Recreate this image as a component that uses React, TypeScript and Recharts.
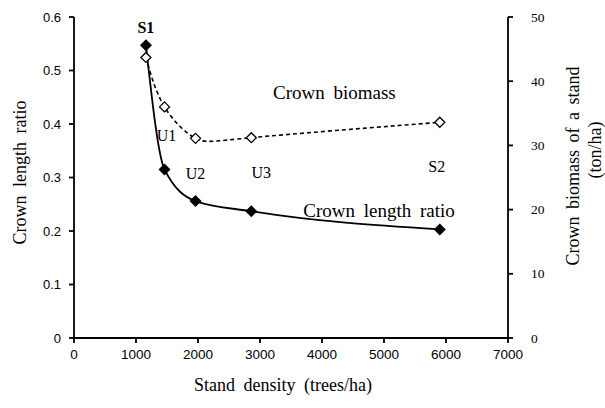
import React from 'react';
import { ComposedChart, Line, XAxis, YAxis, LabelList, ReferenceDot, Label } from 'recharts';

// stands
const stands = ['S1', 'U1', 'U2', 'U3', 'S2'];
const density = [1160, 1460, 1960, 2860, 5900];
const crownRatio = [0.547, 0.315, 0.256, 0.237, 0.203];
const crownBiomass = [43.7, 36.0, 31.1, 31.2, 33.6];

const xTicks = [0, 1000, 2000, 3000, 4000, 5000, 6000, 7000];
const ratioTicks = [0, 0.1, 0.2, 0.3, 0.4, 0.5, 0.6];
const biomassTicks = [0, 10, 20, 30, 40, 50];

const data = stands.map((stand, i) => ({
  stand,
  density: density[i],
  ratio: crownRatio[i],
  biomass: crownBiomass[i],
}));

// where each stand name sits relative to its biomass marker
const nameShift: Record<string, [number, number]> = {
  S1: [0, -30],
  U1: [2, 29],
  U2: [0, 35],
  U3: [10, 35],
  S2: [-3, 44],
};

const serif = '"Liberation Serif", "Times New Roman", serif';
const sans = '"Liberation Sans", Arial, sans-serif';

const FilledDiamond = (props: any) => {
  const { cx, cy } = props;
  if (cx == null || cy == null) return null;
  const s = 6;
  return <path d={`M${cx},${cy - s}L${cx + s},${cy}L${cx},${cy + s}L${cx - s},${cy}Z`} fill="#000" />;
};

const OpenDiamond = (props: any) => {
  const { cx, cy } = props;
  if (cx == null || cy == null) return null;
  const s = 5;
  return (
    <path
      d={`M${cx},${cy - s}L${cx + s},${cy}L${cx},${cy + s}L${cx - s},${cy}Z`}
      fill="#fff"
      stroke="#000"
      strokeWidth={1.3}
    />
  );
};

const StandName = (props: any) => {
  const { x, y, value } = props;
  const [dx, dy] = nameShift[value] || [0, 0];
  return (
    <text
      x={x + dx}
      y={y + dy}
      textAnchor="middle"
      dominantBaseline="central"
      fontFamily={serif}
      fontSize={16}
      fontWeight={value === 'S1' ? 700 : 400}
      fill="#000"
    >
      {value}
    </text>
  );
};

// plain black tick text; anchor and font differ per axis
const makeTick = (anchor: 'start' | 'middle' | 'end', font: string, size: number, fmt?: (v: number) => string) =>
  (props: any) => {
    const { x, y, payload } = props;
    const v = payload.value as number;
    return (
      <text
        x={x}
        y={y}
        textAnchor={anchor}
        dominantBaseline={anchor === 'middle' ? 'hanging' : 'central'}
        fontFamily={font}
        fontSize={size}
        fill="#000"
      >
        {fmt ? fmt(v) : String(v)}
      </text>
    );
  };

const titleStyle = { fontFamily: serif, fontSize: 18, fill: '#000', wordSpacing: 4 };

export default function App() {
  return (
    <div style={{ position: 'absolute', left: 0, top: 0, width: 605, height: 408, background: '#fff' }}>
      <ComposedChart width={605} height={408} data={data} margin={{ top: 17, right: 57, bottom: 40, left: 34 }}>
        <XAxis
          dataKey="density"
          type="number"
          domain={[0, 7000]}
          ticks={xTicks}
          interval={0}
          height={30}
          stroke="#000"
          strokeWidth={1.8}
          tickSize={5}
          tickMargin={6}
          tick={makeTick('middle', sans, 13.5)}
        >
          <Label
            content={({ viewBox }: any) => (
              <text
                x={viewBox.x + viewBox.width / 2 - 8}
                y={385}
                textAnchor="middle"
                dominantBaseline="central"
                style={titleStyle}
              >
                Stand density (trees/ha)
              </text>
            )}
          />
        </XAxis>
        <YAxis
          yAxisId="left"
          domain={[0, 0.6]}
          ticks={ratioTicks}
          width={40}
          stroke="#000"
          strokeWidth={1.8}
          tickSize={5}
          tickMargin={8}
          tick={makeTick('end', sans, 13, (v) => (v === 0 ? '0' : v.toFixed(1)))}
        >
          <Label
            content={({ viewBox }: any) => {
              const x = viewBox.x - 14;
              const y = viewBox.y + viewBox.height / 2 - 5;
              return (
                <text
                  x={x}
                  y={y}
                  transform={`rotate(-90 ${x} ${y})`}
                  textAnchor="middle"
                  dominantBaseline="central"
                  style={titleStyle}
                >
                  Crown length ratio
                </text>
              );
            }}
          />
        </YAxis>
        <YAxis
          yAxisId="right"
          orientation="right"
          domain={[0, 50]}
          ticks={biomassTicks}
          width={40}
          stroke="#000"
          strokeWidth={1.8}
          tickSize={5}
          tickMargin={18}
          tick={makeTick('start', serif, 13.5)}
        >
          <Label
            content={({ viewBox }: any) => {
              const x1 = viewBox.x + 65;
              const x2 = viewBox.x + 87;
              const y1 = 166;
              const y2 = 150;
              return (
                <g>
                  <text
                    x={x1}
                    y={y1}
                    transform={`rotate(-90 ${x1} ${y1})`}
                    textAnchor="middle"
                    dominantBaseline="central"
                    style={{ ...titleStyle, wordSpacing: 3 }}
                  >
                    Crown biomass of a stand
                  </text>
                  <text
                    x={x2}
                    y={y2}
                    transform={`rotate(-90 ${x2} ${y2})`}
                    textAnchor="middle"
                    dominantBaseline="central"
                    style={titleStyle}
                  >
                    (ton/ha)
                  </text>
                </g>
              );
            }}
          />
        </YAxis>
        <Line
          yAxisId="left"
          dataKey="ratio"
          type="monotone"
          stroke="#000"
          strokeWidth={1.8}
          dot={<FilledDiamond />}
          activeDot={false}
          isAnimationActive={false}
        />
        <Line
          yAxisId="right"
          dataKey="biomass"
          type="natural"
          stroke="#000"
          strokeWidth={1.6}
          strokeDasharray="4 3"
          dot={<OpenDiamond />}
          activeDot={false}
          isAnimationActive={false}
        >
          <LabelList dataKey="stand" content={<StandName />} />
        </Line>
        <ReferenceDot
          yAxisId="right"
          x={4200}
          y={38.3}
          r={0}
          fill="none"
          stroke="none"
          label={{ value: 'Crown biomass', position: 'center', style: { ...titleStyle, fontSize: 19 } }}
        />
        <ReferenceDot
          yAxisId="left"
          x={4920}
          y={0.239}
          r={0}
          fill="none"
          stroke="none"
          label={{ value: 'Crown length ratio', position: 'center', style: { ...titleStyle, fontSize: 19 } }}
        />
      </ComposedChart>
    </div>
  );
}
